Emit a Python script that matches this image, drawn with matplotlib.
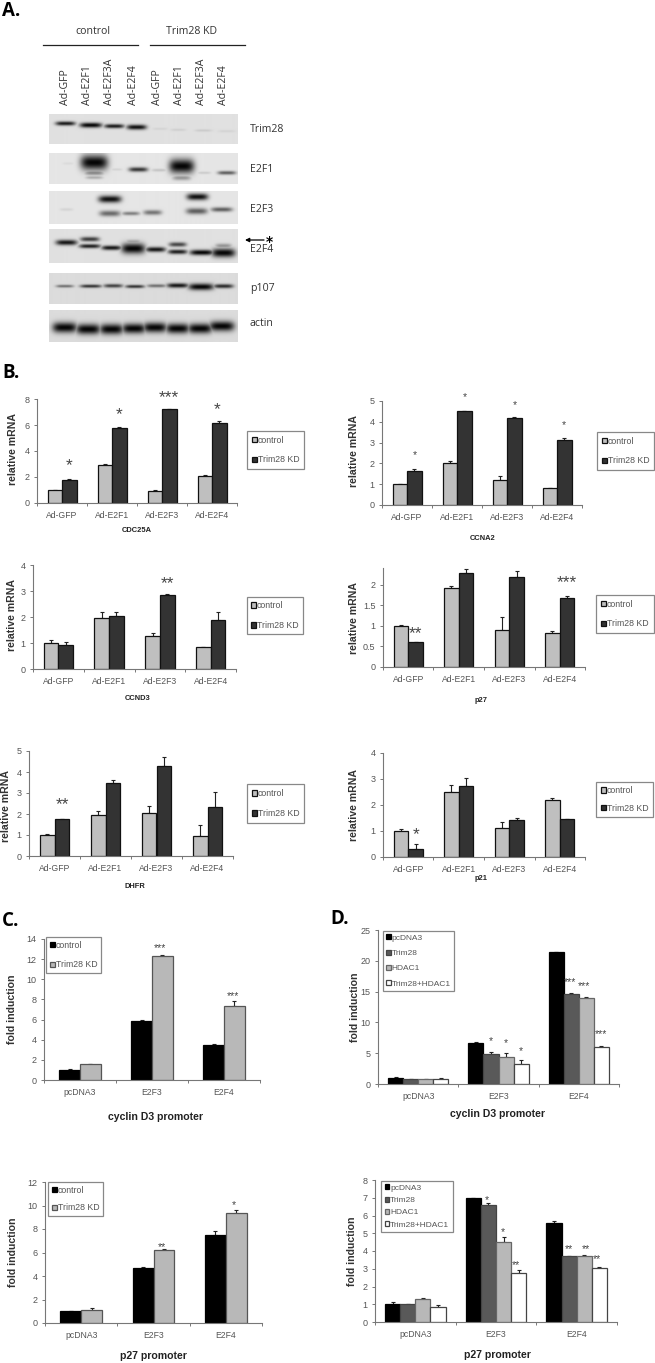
import matplotlib
matplotlib.use('Agg')
import matplotlib.pyplot as plt
import numpy as np

W, H = 655, 1363
plt.rcParams['font.family'] = ['Liberation Sans', 'DejaVu Sans']

# panel A, lanes and blots
lanes = ['Ad-GFP', 'Ad-E2F1', 'Ad-E2F3A', 'Ad-E2F4', 'Ad-GFP', 'Ad-E2F1', 'Ad-E2F3A', 'Ad-E2F4']
# bands: lane centre, y centre, width, height, darkness (in 3x crop units)
trim28_bands = [(197, 370, 52, 10, .9), (273, 375, 58, 12, 1), (343, 378, 52, 10, .9), (410, 381, 52, 12, .95),
                (480, 386, 40, 6, .06), (535, 389, 40, 6, .08), (610, 391, 45, 6, .1), (680, 393, 45, 6, .06)]
e2f1_bands = [(283, 487, 72, 36, 1), (283, 518, 50, 12, .42), (283, 532, 45, 8, .25), (350, 508, 30, 6, .08),
              (415, 508, 50, 11, .78), (478, 510, 40, 7, .15), (545, 498, 66, 34, 1), (545, 533, 48, 12, .35),
              (612, 518, 35, 6, .12), (680, 518, 48, 9, .6), (205, 490, 30, 6, .05)]
e2f3_bands = [(330, 597, 60, 17, .95), (330, 640, 55, 14, .55), (393, 640, 46, 9, .45), (458, 637, 48, 12, .5),
              (592, 590, 56, 16, .95), (590, 633, 56, 15, .6), (665, 628, 56, 11, .6), (200, 628, 35, 7, .08)]
e2f4_bands = [(200, 727, 56, 13, .92), (270, 717, 50, 11, .75), (270, 738, 56, 10, .88), (335, 743, 52, 11, .92),
              (400, 745, 62, 25, 1), (400, 725, 40, 11, .3), (467, 748, 52, 12, .92), (533, 733, 46, 11, .7),
              (533, 755, 50, 11, .88), (605, 757, 62, 13, 1), (670, 758, 62, 21, 1), (670, 737, 42, 11, .35)]
p107_bands = [(195, 858, 46, 7, .5), (273, 858, 56, 8, .78), (340, 857, 50, 9, .72), (405, 859, 50, 8, .78),
              (470, 857, 50, 8, .5), (533, 856, 56, 11, .92), (603, 860, 66, 16, 1), (670, 858, 52, 10, .82)]
actin_bands = [(195, 982, 64, 25, 1), (265, 987, 64, 25, 1), (335, 987, 62, 25, 1), (402, 985, 62, 24, 1),
               (465, 982, 62, 24, 1), (533, 985, 62, 24, 1), (600, 985, 64, 24, 1), (665, 978, 66, 24, 1)]

# panel B
genes_x = ['Ad-GFP', 'Ad-E2F1', 'Ad-E2F3', 'Ad-E2F4']
cdc25a_ctrl, cdc25a_kd = [1, 2.95, .93, 2.1], [1.8, 5.75, 7.2, 6.15]
cdc25a_ctrl_e, cdc25a_kd_e = [.03, .03, .08, .05], [.03, .1, 0, .12]
ccna2_ctrl, ccna2_kd = [1, 2.03, 1.18, .8], [1.62, 4.5, 4.18, 3.12]
ccna2_ctrl_e, ccna2_kd_e = [0, .07, .22, 0], [.1, .03, .05, .1]
ccnd3_ctrl, ccnd3_kd = [1, 1.97, 1.28, .83], [.92, 2.02, 2.83, 1.88]
ccnd3_ctrl_e, ccnd3_kd_e = [.13, .22, .1, .02], [.1, .17, .07, .33]
p27_ctrl, p27_kd = [1, 1.92, .89, .82], [.61, 2.3, 2.19, 1.68]
p27_ctrl_e, p27_kd_e = [.02, .05, .32, .06], [0, .08, .15, .05]
dhfr_ctrl, dhfr_kd = [1.02, 1.93, 2.05, .95], [1.75, 3.48, 4.3, 2.35]
dhfr_ctrl_e, dhfr_kd_e = [.02, .22, .35, .55], [.03, .15, .42, .7]
p21_ctrl, p21_kd = [1, 2.5, 1.13, 2.18], [.32, 2.75, 1.43, 1.46]
p21_ctrl_e, p21_kd_e = [.08, .28, .2, .1], [.17, .3, .06, .02]

# panel C
promoter_x = ['pcDNA3', 'E2F3', 'E2F4']
c_d3_ctrl, c_d3_kd = [1, 5.85, 3.5], [1.55, 12.35, 7.35]
c_d3_ctrl_e, c_d3_kd_e = [.05, .15, .1], [.08, .08, .45]
c_p27_ctrl, c_p27_kd = [1, 4.65, 7.5], [1.1, 6.2, 9.4]
c_p27_ctrl_e, c_p27_kd_e = [0, .12, .35], [.2, .08, .2]

# panel D
d_names = ['pcDNA3', 'Trim28', 'HDAC1', 'Trim28+HDAC1']
d_d3 = [[1, 6.65, 21.35], [.75, 4.95, 14.55], [.75, 4.4, 14], [.85, 3.25, 6.05]]
d_d3_e = [[.12, .1, .12], [.03, .3, .3], [.08, .6, .1], [.05, .7, .2]]
d_p27 = [[1, 7.0, 5.55], [1, 6.6, 3.7], [1.3, 4.5, 3.72], [.85, 2.75, 3.02]]
d_p27_e = [[.1, 0, .15], [.03, .08, .04], [.04, .28, .04], [.08, .2, .07]]

fig = plt.figure(figsize=(W / 100, H / 100), dpi=100)
pixels = fig.add_axes([0, 0, 1, 1])
pixels.set_xlim(0, W)
pixels.set_ylim(H, 0)
pixels.axis('off')


def px_axes(x0, x1, top, bottom):
    return fig.add_axes([x0 / W, 1 - bottom / H, (x1 - x0) / W, (bottom - top) / H])


def blot(top, bottom, bands, bg=.86):
    # crop units are 3x the picture
    xs = np.arange(148, 714)
    ys = np.arange(top * 3, bottom * 3)
    xx, yy = np.meshgrid(xs, ys)
    img = np.zeros(xx.shape)
    for cx, cy, bw, bh, dark in bands:
        prof = np.exp(-((xx - cx) / (bw / 1.75)) ** 4 - ((yy - cy) / (bh / 1.6)) ** 2)
        img = np.maximum(img, dark * prof)
    ax = px_axes(49, 238, top, bottom)
    ax.imshow(bg * (1 - img) + .02, cmap='gray', vmin=0, vmax=1, aspect='auto')
    ax.axis('off')


def bars(x0, x1, top, bottom, names, series, errs, colors, edges, ymax, yticks, width, ylab, title, tx, ty,
         legbox, stars, starsize, legsize=6.3, yticklabels=None):
    ax = px_axes(x0, x1, top, bottom)
    pos = np.arange(len(names))
    n = len(series)
    for i in range(n):
        off = (i - (n - 1) / 2) * width
        ax.bar(pos + off, series[i], width, color=colors[i], edgecolor=edges[i], linewidth=.9,
               label=legbox[4][i], zorder=2)
        ax.errorbar(pos + off, series[i], yerr=[np.zeros(len(names)), errs[i]], fmt='none', ecolor='#222222',
                    elinewidth=.8, capsize=1.6, capthick=.8, zorder=1)
    ax.set_xlim(-.5, len(names) - .5)
    ax.set_ylim(0, ymax)
    ax.spines['top'].set_visible(False)
    ax.spines['right'].set_visible(False)
    ax.spines['left'].set_color('#777777')
    ax.spines['bottom'].set_color('#777777')
    ax.spines['left'].set_linewidth(.8)
    ax.spines['bottom'].set_linewidth(.8)
    ax.set_xticks(np.arange(len(names) + 1) - .5)
    ax.set_xticklabels([])
    ax.set_xticks(pos, minor=True)
    ax.set_xticklabels(names, minor=True, fontsize=6.2, color='#555555')
    ax.tick_params(axis='x', which='minor', length=0, pad=6)
    ax.tick_params(axis='x', which='major', length=2, width=.7, color='#777777')
    ax.set_yticks(yticks)
    if yticklabels:
        ax.set_yticklabels(yticklabels)
    ax.tick_params(axis='y', length=2.5, width=.7, color='#777777', labelsize=6.5, labelcolor='#555555', pad=3)
    ax.patch.set_alpha(0)
    pixels.text(ylab[0], (top + bottom) / 2 + ylab[1], ylab[2], rotation=90, ha='center', va='center',
                fontsize=7.6, fontweight='bold', color='#333333')
    pixels.text(tx, ty, title[0], ha='center', va='center', fontsize=title[1], fontweight='bold', color='#222222')
    handles, labels = ax.get_legend_handles_labels()
    bx0, bx1, by0, by1 = legbox[:4]
    leg = ax.legend(handles, labels, loc='center', bbox_to_anchor=((bx0 + bx1) / 2, (by0 + by1) / 2),
                    bbox_transform=pixels.transData, fontsize=legsize, frameon=True, fancybox=False,
                    edgecolor='#888888', framealpha=1, handlelength=.55, handleheight=.55, handletextpad=.12,
                    labelspacing=legbox[5], borderpad=legbox[6], borderaxespad=0)
    leg.get_frame().set_linewidth(.9)
    for text in leg.get_texts():
        text.set_color('#555555')
    for sx, sy, s in stars:
        ax.text(sx, sy, s, ha='center', va='center', fontsize=starsize, color='#444444', clip_on=False)
    return ax


# panel letters
pixels.text(2, 11, 'A.', fontsize=13.5, fontweight='bold', family='Open Sans', va='center')
pixels.text(2, 373, 'B.', fontsize=13.5, fontweight='bold', family='Open Sans', va='center')
pixels.text(2, 921, 'C.', fontsize=13.5, fontweight='bold', family='Open Sans', va='center')
pixels.text(330, 919, 'D.', fontsize=13.5, fontweight='bold', family='Open Sans', va='center')

# panel A
pixels.text(93, 32, 'control', fontsize=7.6, family='Open Sans', ha='center', va='center', color='#333333')
pixels.text(191, 32, 'Trim28 KD', fontsize=7.6, family='Open Sans', ha='center', va='center', color='#333333')
pixels.plot([43, 138], [45, 45], color='#222222', lw=.9)
pixels.plot([150, 245], [45, 45], color='#222222', lw=.9)
for lane_x, lane in zip([65, 88, 110, 133, 157, 179, 201, 224], lanes):
    pixels.text(lane_x, 105, lane, rotation=90, fontsize=7.6, family='Open Sans', ha='center', va='bottom',
                color='#333333')
blot(114, 144, trim28_bands)
blot(153, 184, e2f1_bands, bg=.88)
blot(191, 224, e2f3_bands, bg=.88)
blot(229, 263, e2f4_bands, bg=.86)
blot(273, 304, p107_bands, bg=.84)
blot(310, 342, actin_bands, bg=.84)
for label, ly in zip(['Trim28', 'E2F1', 'E2F3', 'E2F4', 'p107', 'actin'], [129, 169, 209, 249, 289, 323]):
    pixels.text(250, ly, label, fontsize=7.6, family='Open Sans', va='center', color='#333333')
pixels.annotate('', xy=(245, 240), xytext=(264, 240), arrowprops=dict(arrowstyle='-|>', color='black', lw=.9,
                                                                      mutation_scale=6, shrinkA=0, shrinkB=0))
pixels.text(269.5, 240, r'$\mathbf{*}$', fontsize=10, ha='center', va='center')

# panel B
b_colors = ['#bfbfbf', '#333333']
b_edges = ['#111111', '#111111']
b_names = ['control', 'Trim28 KD']
bars(37, 237, 399, 503, genes_x, [cdc25a_ctrl, cdc25a_kd], [cdc25a_ctrl_e, cdc25a_kd_e], b_colors, b_edges, 8,
     [0, 2, 4, 6, 8], .29, (13, -2, 'relative mRNA'), ('CDC25A', 5.4), 137, 531,
     (248, 303, 432, 468, b_names, 1.25, .5),
     [(.145, 2.87, '*'), (1.145, 6.8, '*'), (2.145, 8.1, '***'), (3.1, 7.2, '*')], 12.5)
bars(382, 582, 401, 505, genes_x, [ccna2_ctrl, ccna2_kd], [ccna2_ctrl_e, ccna2_kd_e], b_colors, b_edges, 5,
     [0, 1, 2, 3, 4, 5], .29, (354, -2, 'relative mRNA'), ('CCNA2', 5.4), 483, 539,
     (598, 653, 433, 469, b_names, 1.25, .5),
     [(.15, 2.39, '*'), (1.15, 5.19, '*'), (2.15, 4.79, '*'), (3.13, 3.86, '*')], 7.5)
bars(33, 236, 565, 669, genes_x, [ccnd3_ctrl, ccnd3_kd], [ccnd3_ctrl_e, ccnd3_kd_e], b_colors, b_edges, 4,
     [0, 1, 2, 3, 4], .29, (12, -2, 'relative mRNA'), ('CCND3', 5.4), 138, 698,
     (247, 303, 597, 634, b_names, 1.25, .5),
     [(2.15, 3.28, '**')], 12.5)
bars(383, 585, 568, 667, genes_x, [p27_ctrl, p27_kd], [p27_ctrl_e, p27_kd_e], b_colors, b_edges, 2.41,
     [0, .5, 1, 1.5, 2], .29, (354, 0, 'relative mRNA'), ('p27', 5.4), 481, 701,
     (596, 654, 595, 633, b_names, 1.25, .55),
     [(.15, .82, '**'), (3.15, 2.05, '***')], 12.5, yticklabels=['0', '0.5', '1', '1.5', '2'])
bars(29, 233, 751, 856, genes_x, [dhfr_ctrl, dhfr_kd], [dhfr_ctrl_e, dhfr_kd_e], b_colors, b_edges, 5,
     [0, 1, 2, 3, 4, 5], .29, (6, 2, 'relative mRNA'), ('DHFR', 5.4), 135, 887,
     (247, 304, 784, 823, b_names, 1.25, .6),
     [(.15, 2.43, '**')], 12.5)
bars(383, 585, 753, 857, genes_x, [p21_ctrl, p21_kd], [p21_ctrl_e, p21_kd_e], b_colors, b_edges, 4,
     [0, 1, 2, 3, 4], .29, (354, 0, 'relative mRNA'), ('p21', 5.4), 481, 879,
     (597, 652, 783, 816, b_names, 1.0, .5),
     [(.15, .85, '*')], 12.5)

# panel C
c_colors = ['#000000', '#b8b8b8']
c_edges = ['#000000', '#555555']
bars(44, 260, 939, 1080, promoter_x, [c_d3_ctrl, c_d3_kd], [c_d3_ctrl_e, c_d3_kd_e], c_colors, c_edges, 14,
     list(range(0, 15, 2)), .287, (12, 0, 'fold induction'), ('cyclin D3 promoter', 7.6), 156, 1117,
     (48, 99, 937, 973, b_names, 1.25, .45),
     [(1.115, 13.1, '***'), (2.125, 8.37, '***')], 7.5)
bars(45, 262, 1182, 1323, promoter_x, [c_p27_ctrl, c_p27_kd], [c_p27_ctrl_e, c_p27_kd_e], c_colors, c_edges, 12,
     list(range(0, 13, 2)), .287, (13, 0, 'fold induction'), ('p27 promoter', 7.6), 153, 1356,
     (50, 101, 1183, 1215, b_names, 1.0, .45),
     [(1.12, 6.5, '**'), (2.11, 10.03, '*')], 7.5)

# panel D
d_colors = ['#000000', '#595959', '#b8b8b8', '#ffffff']
d_edges = ['#000000', '#444444', '#666666', '#444444']
bars(378, 619, 930, 1084, promoter_x, d_d3, d_d3_e, d_colors, d_edges, 25,
     [0, 5, 10, 15, 20, 25], .187, (355, 0, 'fold induction'), ('cyclin D3 promoter', 7.6), 498, 1114,
     (383, 454, 931, 991, d_names, .95, .4),
     [(.91, 6.97, '*'), (1.09, 6.6, '*'), (1.28, 5.35, '*'), (1.89, 16.6, '***'), (2.07, 15.9, '***'),
      (2.27, 8.1, '***')], 7.5, legsize=6)
bars(375, 617, 1180, 1322, promoter_x, d_p27, d_p27_e, d_colors, d_edges, 8,
     list(range(0, 9)), .187, (352, 0, 'fold induction'), ('p27 promoter', 7.6), 497, 1355,
     (382, 452, 1180, 1233, d_names, .6, .4),
     [(.886, 6.85, '*'), (1.09, 5.05, '*'), (1.25, 3.23, '**'), (1.91, 4.13, '**'), (2.11, 4.13, '**'),
      (2.25, 3.55, '**')], 7.5, legsize=6)

fig.savefig('out.png', dpi=100)
